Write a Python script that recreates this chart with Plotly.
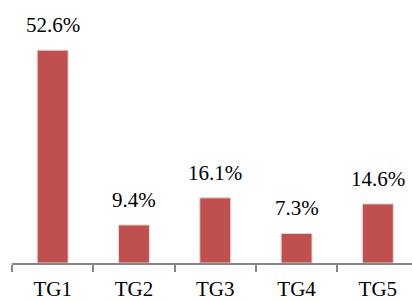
import plotly.graph_objects as go

categories = ["TG1", "TG2", "TG3", "TG4", "TG5"]
values = [52.6, 9.4, 16.1, 7.3, 14.6]
labels = ["52.6%", "9.4%", "16.1%", "7.3%", "14.6%"]

FONT = "Liberation Serif"

fig = go.Figure()
fig.add_trace(go.Bar(
    x=categories, y=values, width=0.38,
    marker=dict(color="#C0504D", line=dict(color="#E6D6D6", width=1)),
    hoverinfo="skip",
))
for c, v, t in zip(categories, values, labels):
    fig.add_annotation(x=c, y=v, text=t, showarrow=False, yanchor="bottom",
                       yshift=11, font=dict(family=FONT, size=21, color="#000000"))

fig.update_layout(
    width=412, height=301,
    margin=dict(l=12, r=0, t=0, b=38, autoexpand=False),
    paper_bgcolor="white", plot_bgcolor="white",
    showlegend=False,
    font=dict(family=FONT, size=21, color="#000000"),
    xaxis=dict(type="category", range=[-0.5, 4.42], showline=True, linecolor="#868686",
               linewidth=1.5, ticks="outside", tickson="boundaries", ticklen=7,
               tickcolor="#868686", tickwidth=1.5, showgrid=False, automargin=False,
               ticklabelstandoff=6,
               tickfont=dict(family=FONT, size=21)),
    yaxis=dict(range=[0, 65], visible=False, showgrid=False, zeroline=False),
)
fig.write_html("out.html", config={"displayModeBar": False, "displaylogo": False},
               post_script="document.body.style.margin='0';")
